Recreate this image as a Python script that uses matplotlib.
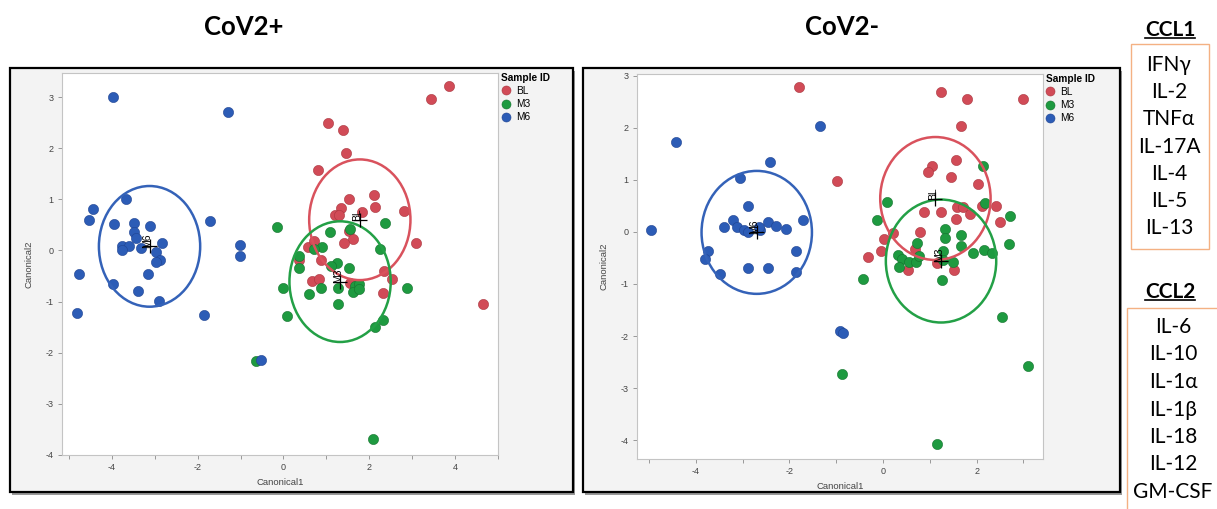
import matplotlib
matplotlib.use("Agg")
import matplotlib.pyplot as plt
from matplotlib.patches import Ellipse, Rectangle
from matplotlib.lines import Line2D
from matplotlib.ticker import MultipleLocator

W, H = 1217, 509
plt.rcParams['axes.unicode_minus'] = False
plt.rcParams['font.family'] = ['Liberation Sans', 'DejaVu Sans']

groups = ['BL', 'M3', 'M6']
group_colours = {'BL': '#d14b57', 'M3': '#1e9a40', 'M6': '#2c5cb6'}
edge_colours = {'BL': '#a9363f', 'M3': '#15722e', 'M6': '#1f4391'}
ring_colours = {'BL': '#d9525d', 'M3': '#23a046', 'M6': '#3462b8'}
ring_radius = 1.18

# CoV2+ canonical scores (Canonical1, Canonical2)
pos_bl = [(3.85, 3.22), (3.43, 2.96), (1.05, 2.50), (1.39, 2.35), (1.46, 1.90),
          (0.81, 1.58), (1.52, 1.01), (2.12, 1.08), (2.14, 0.84), (2.80, 0.77),
          (1.35, 0.83), (1.19, 0.69), (1.29, 0.69), (1.84, 0.75), (1.53, 0.39),
          (1.63, 0.23), (1.41, 0.15), (3.10, 0.14), (0.57, 0.06), (0.71, 0.18),
          (0.37, -0.18), (0.88, -0.18), (2.35, -0.40), (2.53, -0.55), (0.66, -0.60),
          (0.84, -0.56), (1.55, -0.64), (2.33, -0.83), (4.64, -1.04)]
pos_m3 = [(-0.16, 0.45), (2.37, 0.53), (1.09, 0.36), (1.56, 0.41), (0.90, 0.07),
          (2.25, 0.02), (0.37, -0.10), (0.36, -0.35), (1.52, -0.35), (1.24, -0.25),
          (1.11, -0.31), (0.71, 0.02), (-0.02, -0.73), (0.60, -0.86), (0.88, -0.73),
          (1.28, -0.73), (1.67, -0.70), (1.77, -0.65), (1.63, -0.82), (1.77, -0.76),
          (2.89, -0.74), (1.26, -1.05), (0.09, -1.29), (2.13, -1.49), (2.31, -1.36),
          (-0.64, -2.16), (2.08, -3.69)]
pos_m6 = [(-3.98, 3.00), (-1.30, 2.70), (-3.67, 1.01), (-4.43, 0.81), (-4.53, 0.59),
          (-3.95, 0.52), (-3.49, 0.53), (-3.12, 0.47), (-3.49, 0.36), (-3.43, 0.25),
          (-3.77, 0.08), (-3.60, 0.08), (-3.77, 0.00), (-3.33, 0.05), (-2.83, 0.14),
          (-2.97, -0.03), (-2.88, -0.19), (-2.97, -0.23), (-1.70, 0.58), (-1.02, 0.10),
          (-1.02, -0.11), (-4.76, -0.47), (-3.15, -0.46), (-3.98, -0.65), (-3.38, -0.80),
          (-2.89, -0.99), (-4.81, -1.23), (-1.85, -1.27), (-0.52, -2.14)]
pos_means = {'BL': (1.78, 0.60), 'M3': (1.32, -0.61), 'M6': (-3.12, 0.08)}

# CoV2- canonical scores
neg_bl = [(-1.79, 2.79), (-0.98, 0.97), (1.23, 2.68), (1.80, 2.55), (3.00, 2.55),
          (1.66, 2.04), (1.04, 1.27), (0.96, 1.15), (1.56, 1.38), (1.46, 1.05),
          (2.02, 0.92), (0.87, 0.39), (1.23, 0.39), (1.59, 0.47), (1.70, 0.47),
          (2.12, 0.50), (2.42, 0.49), (1.85, 0.34), (1.55, 0.25), (2.50, 0.19),
          (0.21, -0.03), (0.79, -0.01), (0.02, -0.13), (0.68, -0.33), (-0.05, -0.36),
          (-0.33, -0.49), (0.54, -0.74), (1.15, -0.59), (1.52, -0.74)]
neg_m3 = [(2.14, 1.27), (0.09, 0.57), (2.18, 0.55), (-0.12, 0.23), (2.72, 0.31),
          (1.32, 0.06), (1.32, -0.12), (1.67, -0.06), (2.69, -0.24), (0.73, -0.22),
          (1.67, -0.27), (1.92, -0.41), (2.16, -0.35), (2.32, -0.41), (1.29, -0.36),
          (1.29, -0.54), (1.50, -0.57), (0.32, -0.44), (0.41, -0.52), (0.55, -0.57),
          (0.70, -0.57), (0.34, -0.67), (0.77, -0.46), (1.27, -0.92), (-0.42, -0.90),
          (2.54, -1.64), (-0.88, -2.73), (3.10, -2.57), (1.16, -4.08)]
neg_m6 = [(-4.42, 1.72), (-1.34, 2.03), (-4.96, 0.04), (-2.42, 1.35), (-3.06, 1.03),
          (-2.89, 0.50), (-3.21, 0.22), (-3.41, 0.10), (-3.12, 0.10), (-2.98, 0.04),
          (-2.89, -0.01), (-2.62, 0.04), (-2.66, 0.10), (-2.45, 0.18), (-2.28, 0.12),
          (-2.07, 0.05), (-1.72, 0.23), (-3.75, -0.36), (-3.80, -0.52), (-1.87, -0.36),
          (-2.89, -0.70), (-2.46, -0.70), (-3.48, -0.81), (-1.87, -0.78), (-0.93, -1.91),
          (-0.86, -1.95)]
neg_means = {'BL': (1.12, 0.64), 'M3': (1.24, -0.56), 'M6': (-2.70, -0.01)}

ccl1_names = ['IFN\u03b3', 'IL-2', 'TNF\u03b1', 'IL-17A', 'IL-4', 'IL-5', 'IL-13']
ccl2_names = ['IL-6', 'IL-10', 'IL-1\u03b1', 'IL-1\u03b2', 'IL-18', 'IL-12', 'GM-CSF']

fig = plt.figure(figsize=(W / 100, H / 100), dpi=100)
fig.patch.set_facecolor('white')


def px_box(x0, y0, x1, y1):
    return [x0 / W, 1 - y1 / H, (x1 - x0) / W, (y1 - y0) / H]


def frame(x0, y0, x1, y1):
    # drop shadow, then the black outlined grey panel
    fig.add_artist(Rectangle(((x0 + 2) / W, 1 - (y1 + 3) / H), (x1 - x0) / W, (y1 - y0) / H,
                             transform=fig.transFigure, facecolor='#9a9a9a',
                             edgecolor='none', zorder=-3))
    fig.add_artist(Rectangle((x0 / W, 1 - y1 / H), (x1 - x0) / W, (y1 - y0) / H,
                             transform=fig.transFigure, facecolor='#f3f3f3',
                             edgecolor='black', linewidth=1.6, zorder=-2))


def draw_panel(box, xlim, ylim, points, means):
    ax = fig.add_axes(px_box(*box))
    ax.set_facecolor('white')
    for g in groups:
        xs = [p[0] for p in points[g]]
        ys = [p[1] for p in points[g]]
        ax.scatter(xs, ys, s=54, color=group_colours[g], edgecolors=edge_colours[g],
                   linewidths=0.4, zorder=3)
    for g in groups:
        cx, cy = means[g]
        ax.add_patch(Ellipse((cx, cy), 2 * ring_radius, 2 * ring_radius, fill=False,
                             edgecolor=ring_colours[g], linewidth=1.8, zorder=4))
        ax.plot(cx, cy, '+', color='black', ms=10, mew=0.9, zorder=5)
        ax.annotate(g, (cx, cy), xytext=(2, -1), textcoords='offset points',
                    rotation=90, ha='right', va='bottom', fontsize=7.5, zorder=6)
    ax.set_xlim(*xlim)
    ax.set_ylim(*ylim)
    ax.xaxis.set_major_locator(MultipleLocator(2))
    ax.xaxis.set_minor_locator(MultipleLocator(1))
    ax.yaxis.set_major_locator(MultipleLocator(1))
    ax.tick_params(which='both', direction='out', length=3, width=0.6,
                   colors='#8a8a8a', labelsize=6.5, labelcolor='#444444', pad=3)
    for s in ax.spines.values():
        s.set_color('#c4c4c4')
        s.set_linewidth(0.8)
    ax.set_xlabel('Canonical1', fontsize=6.8, color='#444444', labelpad=4)
    ax.set_ylabel('Canonical2', fontsize=6.8, color='#444444', labelpad=9)
    handles = [Line2D([], [], ls='none', marker='o', ms=6.5, mfc=group_colours[g],
                      mec=edge_colours[g], mew=0.4, label=g) for g in groups]
    leg = ax.legend(handles=handles, title='Sample ID', loc='upper left',
                    bbox_to_anchor=(1.008, 1.0), frameon=False, fontsize=7.3,
                    borderpad=0, borderaxespad=0, handlelength=0.8,
                    handletextpad=0.6, labelspacing=0.3, alignment='left')
    leg.get_title().set_fontweight('bold')
    leg.get_title().set_fontsize(7.3)
    return ax


frame(10, 68, 573, 492)
frame(583, 68, 1120, 492)

draw_panel((62, 73, 498, 455), (-5.16, 5.0), (-4.0, 3.47),
           {'BL': pos_bl, 'M3': pos_m3, 'M6': pos_m6}, pos_means)
draw_panel((637, 74, 1043, 459), (-5.26, 3.42), (-4.36, 3.03),
           {'BL': neg_bl, 'M3': neg_m3, 'M6': neg_m6}, neg_means)

title_font = dict(family=['Lato', 'DejaVu Sans'], weight='bold', size=18.5)
fig.text(244 / W, 1 - 27 / H, 'CoV2+', ha='center', va='center', **title_font)
fig.text(842 / W, 1 - 27 / H, 'CoV2-', ha='center', va='center', **title_font)

# cytokine lists on the right
list_font = dict(family=['Lato', 'DejaVu Sans'], size=15)
fig.add_artist(Rectangle((1131 / W, 1 - 249 / H), 78 / W, 205 / H, transform=fig.transFigure,
                         facecolor='white', edgecolor='#f4b183', linewidth=1.0))
fig.add_artist(Rectangle((1127 / W, 1 - 540 / H), 110 / W, 232 / H, transform=fig.transFigure,
                         facecolor='white', edgecolor='#f4b183', linewidth=1.0))
heads = []
heads.append(fig.text(1170 / W, 1 - 30 / H, 'CCL1', ha='center', va='center',
                      weight='bold', **list_font))
heads.append(fig.text(1170 / W, 1 - 292 / H, 'CCL2', ha='center', va='center',
                      weight='bold', **list_font))
for i, name in enumerate(ccl1_names):
    fig.text(1169 / W, 1 - (65 + 27.2 * i) / H, name, ha='center', va='center', **list_font)
for i, name in enumerate(ccl2_names):
    fig.text(1173 / W, 1 - (327 + 27.5 * i) / H, name, ha='center', va='center', **list_font)

fig.canvas.draw()
inv = fig.transFigure.inverted()
for t in heads:
    bb = t.get_window_extent()
    (ax0, ay0), (ax1, _) = inv.transform([(bb.x0, bb.y0 + 2), (bb.x1, bb.y0 + 2)])
    fig.add_artist(Line2D([ax0, ax1], [ay0, ay0], transform=fig.transFigure,
                          color='black', linewidth=1.2))

fig.savefig('out.png', dpi=100)
